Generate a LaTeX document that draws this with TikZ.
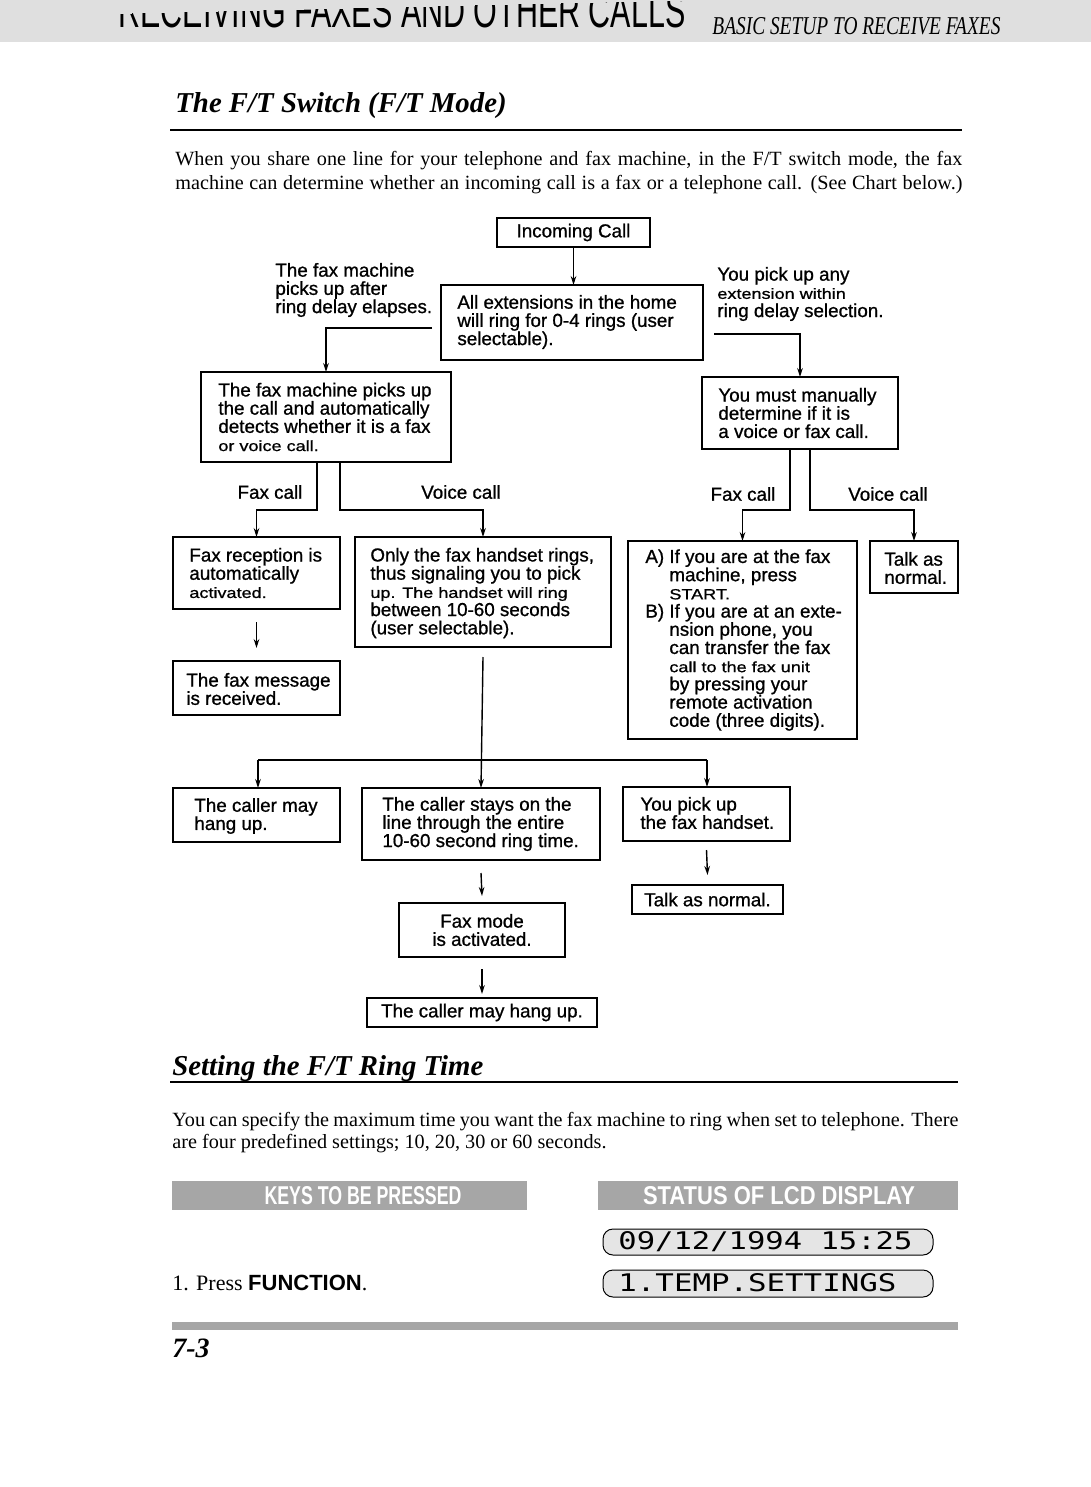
\documentclass[tikz,border=0pt]{standalone}
\usepackage{fontspec}
\usepackage{graphicx}
\usetikzlibrary{arrows.meta}
\setmainfont{Liberation Serif}
\newfontfamily\chartsans[FakeBold=0.9]{Liberation Sans}
\newfontfamily\plainsans{Liberation Sans}
\newfontfamily\chartwide[FakeStretch=1.22,FakeBold=0.9]{Liberation Sans}
\newfontfamily\lcdmono{DejaVu Sans Mono}
\newcommand\cf{\chartsans\fontsize{9.4}{9.1}\selectfont}
\newcommand\wideln{\chartwide\fontsize{7.4}{9.1}\selectfont}
\newcommand\chartbox[5]{%
  \node[bx, minimum width={(#4-#2)*0.5pt}, minimum height={(#5-#3)*0.5pt}] (#1) at ({(#2+#4)/2},{(#3+#5)/2}) {};}
\begin{document}
\begin{tikzpicture}[x=0.5pt,y=-0.5pt,
  bx/.style={draw, line width=1pt, inner sep=0, outer sep=0},
  txt/.style={font=\cf, align=left, inner sep=0},
  ctxt/.style={font=\cf, align=center, inner sep=0},
  ln/.style={line width=0.7pt},
  arr/.style={line width=0.7pt, -{Stealth[length=4.5pt,width=2.8pt]}},
  bar/.style={fill=gray!70, draw=none},
]
\useasboundingbox (0,0) rectangle (1091,1487);
\fill[white] (0,0) rectangle (1091,1487);
\clip (0,0) rectangle (1091,1487);

% header band
\fill[gray!25] (0,0) rectangle (1091,42);
\begin{scope}
\clip (100,14) -- (700,0) -- (706,0) -- (706,45) -- (100,45) -- cycle;
\node[anchor=base west, inner sep=0] (hdr) at (118,28) {\resizebox{283.5pt}{17pt}{\plainsans RECEIVING FAXES AND OTHER CALLS}};
\end{scope}
\node[anchor=base west, inner sep=0] (hdr2) at (712,35) {\resizebox{144pt}{8.5pt}{\itshape BASIC SETUP TO RECEIVE FAXES}};

% title 1
\node[anchor=base west, inner sep=0] (title1) at (175,113) {\fontsize{14.4}{16}\selectfont\bfseries\itshape The F/T Switch (F/T Mode)};
\draw[line width=0.8pt] (170,130) -- (962,130);
\node[anchor=base west, inner sep=0] (p1a) at (175,166) {\fontsize{10.1}{12}\selectfont\makebox[393.5pt][s]{When you share one line for your telephone and fax machine, in the F/T switch mode, the fax}};
\node[anchor=base west, inner sep=0] (p1b) at (175,190) {\fontsize{10.1}{12}\selectfont\makebox[393.5pt][s]{machine can determine whether an incoming call is a fax or a telephone call. (See Chart below.)}};

% flowchart boxes
\chartbox{inc}{497}{218}{650}{247}
\node[ctxt] (tinc) at (inc) {Incoming Call};
\chartbox{ext}{441}{285}{703}{360}
\node[txt, anchor=west] (text) at (457,322) {All extensions in the home\\will ring for 0-4 rings (user\\selectable).};
\node[txt, anchor=west] (lleft) at (275,290) {The fax machine\\picks up after\\ring delay elapses.};
\node[txt, anchor=west] (lright) at (717,294) {You pick up any\\{\wideln extension within}\\ring delay selection.};
\chartbox{fm}{201}{372}{451}{462}
\node[txt, anchor=west] (tfm) at (218,417) {The fax machine picks up\\the call and automatically\\detects whether it is a fax\\{\wideln or voice call.}};
\chartbox{mm}{702}{377}{898}{449}
\node[txt, anchor=west] (tmm) at (718,413) {You must manually\\determine if it is\\a voice or fax call.};

\chartbox{fr}{173}{537}{340}{609}
\node[txt, anchor=west] (tfr) at (189,573) {Fax reception is\\automatically\\{\wideln activated.}};
\chartbox{oh}{355}{537}{611}{647}
\node[txt, anchor=west] (toh) at (370,593) {Only the fax handset rings,\\thus signaling you to pick\\{\wideln up. The handset will ring}\\between 10-60 seconds\\(user selectable).};
\chartbox{ab}{628}{541}{857}{739}
\node[txt, anchor=west] (tab) at (645,640) {\makebox[12pt][l]{A)}If you are at the fax\\\hspace*{12pt}machine, press\\\hspace*{12pt}{\wideln START.}\\\makebox[12pt][l]{B)}If you are at an exte-\\\hspace*{12pt}nsion phone, you\\\hspace*{12pt}can transfer the fax\\\hspace*{12pt}{\wideln call to the fax unit}\\\hspace*{12pt}by pressing your\\\hspace*{12pt}remote activation\\\hspace*{12pt}code (three digits).};
\chartbox{tn}{870}{541}{958}{593}
\node[txt, anchor=west] (ttn) at (884,568) {Talk as\\normal.};
\chartbox{fmsg}{173}{661}{340}{715}
\node[txt, anchor=west] (tfmsg) at (186,689) {The fax message\\is received.};

\chartbox{chu}{173}{788}{340}{842}
\node[txt, anchor=west] (tchu) at (194,816) {The caller may\\hang up.};
\chartbox{cs}{362}{788}{600}{860}
\node[txt, anchor=west] (tcs) at (382,824) {The caller stays on the\\line through the entire\\10-60 second ring time.};
\chartbox{yp}{623}{787}{790}{841}
\node[txt, anchor=west] (typ) at (640,813) {You pick up\\the fax handset.};
\chartbox{fmode}{399}{903}{565}{957}
\node[ctxt] (tfmode) at (fmode) {Fax mode\\is activated.};
\chartbox{chu2}{367}{998}{597}{1027}
\node[ctxt] (tchu2) at (chu2) {The caller may hang up.};
\chartbox{tan}{632}{885}{783}{914}
\node[ctxt] (ttan) at (tan) {Talk as normal.};

% labels
\node[txt] (lfax1) at (270,492) {Fax call};
\node[txt] (lvoice1) at (461,492) {Voice call};
\node[txt] (lfax2) at (743,494) {Fax call};
\node[txt] (lvoice2) at (888,494) {Voice call};

% connectors
\draw[arr] (inc.south) -- (inc.south |- ext.north);
\coordinate (cl) at (432,328);
\coordinate (cr) at (714,334);
\draw[arr] (cl) -| (fm.north);
\draw[arr] (cr) -| (mm.north);
\draw[arr] ([xshift=-4.5pt]fm.south) -- ++(0,48) -| (fr.north);
\draw[arr] ([xshift=7pt]fm.south) -- ++(0,48) -| (oh.north);
\draw[arr] ([xshift=-5pt]mm.south) -- ++(0,61) -| (ab.north);
\draw[arr] ([xshift=5pt]mm.south) -- ++(0,61) -| (tn.north);
\draw[arr] ([yshift=-6.5pt]fr.south) -- ([yshift=6.5pt]fmsg.north);
\draw[arr] ([yshift=-5pt]oh.south) -- (cs.north);
\coordinate (jl) at (258,760);
\coordinate (jr) at (707,760);
\draw[ln] (jl) -- (jr);
\draw[arr] (jl) -- (chu.north -| jl);
\draw[arr] (jr) -- (yp.north -| jr);
\draw[arr] ([yshift=-6.5pt]cs.south) -- ([yshift=3.5pt]fmode.north);
\draw[arr] ([yshift=-6pt]fmode.south) -- ([yshift=2pt]chu2.north);
\draw[arr] ([yshift=-4.5pt]yp.south) -- ([yshift=5pt]tan.north);

% section 2
\node[anchor=base west, inner sep=0] (title2) at (172,1075) {\fontsize{14.4}{16}\selectfont\bfseries\itshape Setting the F/T Ring Time};
\draw[line width=0.8pt] (170,1082) -- (958,1082);
\node[anchor=base west, inner sep=0] (p2a) at (172,1126) {\fontsize{10.1}{12}\selectfont\makebox[393pt][s]{You can specify the maximum time you want the fax machine to ring when set to telephone. There}};
\node[anchor=base west, inner sep=0] (p2b) at (172,1148) {\fontsize{10.1}{12}\selectfont are four predefined settings; 10, 20, 30 or 60 seconds.};

% bars
\fill[bar] (172,1181) rectangle (527,1210);
\node[inner sep=0] (keys) at (363,1196) {\color{white}\resizebox{98.5pt}{9pt}{\plainsans\bfseries KEYS TO BE PRESSED}};
\fill[bar] (598,1181) rectangle (958,1210);
\node[inner sep=0] (status) at (779,1196) {\color{white}\resizebox{136pt}{9pt}{\plainsans\bfseries STATUS OF LCD DISPLAY}};

% LCD
\draw[fill=gray!20, line width=0.5pt, rounded corners=5pt] (603,1229) rectangle (933,1255);
\node[anchor=west, inner sep=0] (lcd1) at (618,1242) {\resizebox{147pt}{9pt}{\lcdmono 09/12/1994 15:25}};
\draw[fill=gray!20, line width=0.5pt, rounded corners=5pt] (603,1270) rectangle (933,1297);
\node[anchor=west, inner sep=0] (lcd2) at (618,1283) {\resizebox{139pt}{9pt}{\lcdmono 1.TEMP.SETTINGS}};
\node[anchor=base west, inner sep=0] (press) at (172,1290) {\fontsize{11}{12}\selectfont 1. Press {\plainsans\bfseries FUNCTION}.};

% footer
\fill[gray!70] (172,1322) rectangle (958,1330);
\node[anchor=base west, inner sep=0] (pg) at (172,1357) {\fontsize{14}{16}\selectfont\bfseries\itshape 7-3};
\end{tikzpicture}
\end{document}
